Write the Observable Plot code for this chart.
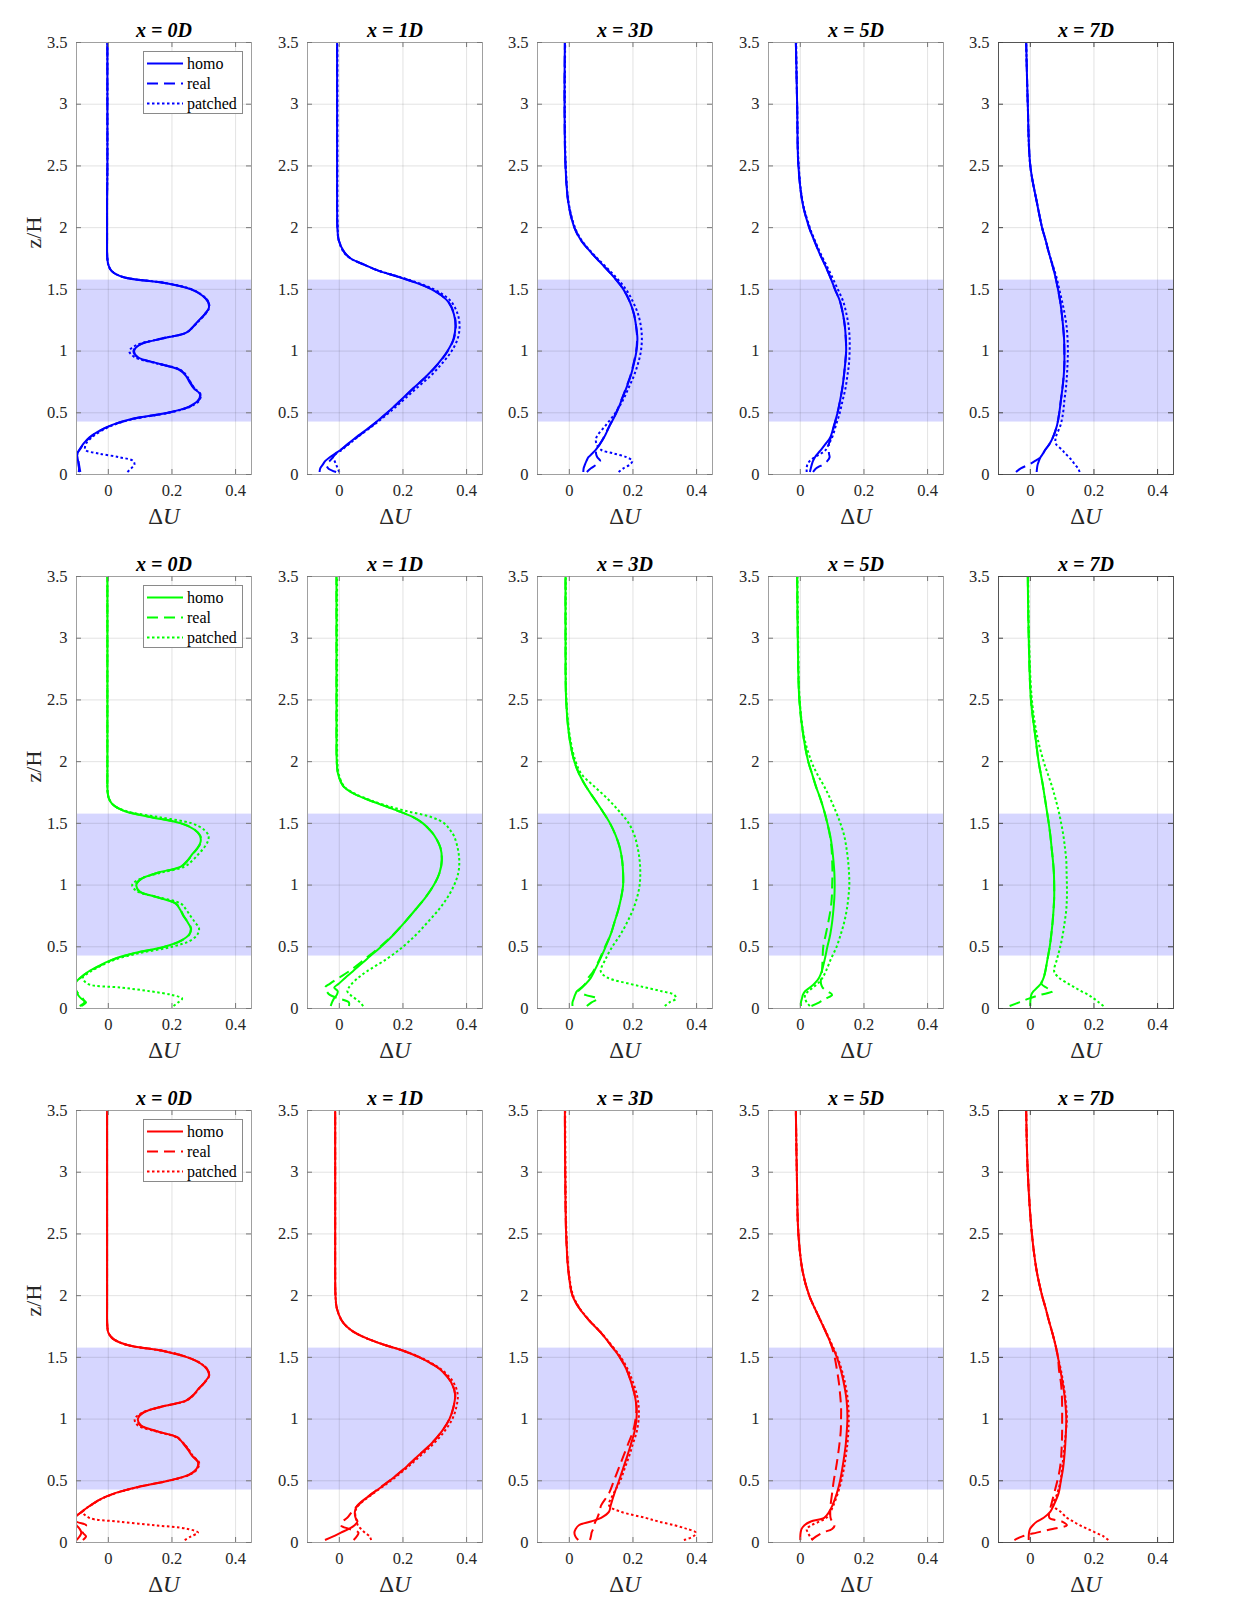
<!DOCTYPE html>
<html>
<head>
<meta charset="utf-8">
<script src="https://cdn.jsdelivr.net/npm/d3@7"></script>
<script src="https://cdn.jsdelivr.net/npm/@observablehq/plot@0.6"></script>
<style>
  html, body { margin: 0; padding: 0; background: #fff; }
  #fig { position: relative; width: 1250px; height: 1613px; background: #fff; overflow: hidden;
         font-family: "Liberation Serif", "Times New Roman", serif; }
  #fig svg { position: absolute; overflow: visible; }
</style>
</head>
<body>
<div id="fig"></div>
<script>
// ---------------- data ----------------
const locations = ["0D", "1D", "3D", "5D", "7D"];
const rowColors = ["#0000ff", "#00ff00", "#ff0000"];
const seriesNames = ["homo", "real", "patched"];
const xTicks = [0, 0.2, 0.4];
const yTicks = [0, 0.5, 1, 1.5, 2, 2.5, 3, 3.5];
const xDomain = [-0.1, 0.45];
const yDomain = [0, 3.5];
const bandRange = [0.425, 1.575];

// heights z/H at which profiles are read
const zNear = [0.02,0.05,0.08,0.11,0.14,0.17,0.2,0.25,0.3,0.35,0.4,0.45,0.5,0.55,0.6,0.65,0.7,0.75,0.8,0.85,0.9,0.95,1.0,1.05,1.1,1.15,1.2,1.25,1.3,1.35,1.4,1.45,1.5,1.55,1.6,1.65,1.7,1.75,1.8,1.9,2.0,2.2,2.5,3.0,3.5];
const zMid = [0.02,0.05,0.08,0.11,0.14,0.17,0.2,0.25,0.3,0.4,0.5,0.6,0.7,0.8,0.9,1.0,1.1,1.2,1.3,1.4,1.45,1.5,1.55,1.6,1.65,1.7,1.75,1.8,1.9,2.0,2.2,2.5,3.0,3.5];
const zFar = [0.02,0.05,0.08,0.11,0.14,0.17,0.2,0.25,0.3,0.4,0.5,0.6,0.7,0.8,0.9,1.0,1.1,1.2,1.3,1.4,1.5,1.6,1.7,1.8,1.9,2.0,2.2,2.5,3.0,3.5];

// ---- blue row ----
const blue0D_homo = [-0.093,-0.092,-0.094,-0.095,-0.097,-0.098,-0.091,-0.078,-0.06,-0.031,0.01,0.073,0.187,0.254,0.282,0.288,0.268,0.255,0.244,0.222,0.155,0.093,0.081,0.098,0.166,0.245,0.267,0.285,0.303,0.316,0.313,0.295,0.26,0.18,0.045,0.01,0.0,-0.003,-0.004,-0.004,-0.004,-0.004,-0.003,-0.003,-0.003];
const blue0D_real = [-0.088,-0.09,-0.092,-0.094,-0.096,-0.097,-0.09,-0.077,-0.058,-0.03,0.012,0.075,0.188,0.256,0.284,0.289,0.27,0.257,0.246,0.223,0.156,0.092,0.079,0.097,0.166,0.246,0.268,0.286,0.304,0.317,0.314,0.296,0.262,0.182,0.046,0.01,0.0,-0.003,-0.004,-0.004,-0.004,-0.004,-0.003,-0.003,-0.003];
const blue0D_patched = [0.06,0.072,0.082,0.078,0.035,-0.03,-0.072,-0.07,-0.052,-0.024,0.015,0.08,0.19,0.258,0.286,0.29,0.27,0.258,0.246,0.225,0.152,0.083,0.066,0.09,0.165,0.246,0.268,0.287,0.305,0.317,0.314,0.297,0.262,0.182,0.047,0.01,0.0,-0.003,-0.004,-0.004,-0.004,-0.004,-0.003,-0.003,-0.003];
const blue1D_homo = [-0.062,-0.06,-0.052,-0.044,-0.03,-0.013,0.005,0.028,0.052,0.104,0.15,0.192,0.233,0.275,0.311,0.34,0.359,0.365,0.36,0.342,0.321,0.29,0.244,0.187,0.124,0.078,0.036,0.016,-0.002,-0.006,-0.007,-0.007,-0.007,-0.007];
const blue1D_real = [-0.01,-0.035,-0.04,-0.03,-0.02,-0.01,0.004,0.03,0.054,0.105,0.151,0.193,0.234,0.276,0.312,0.341,0.36,0.366,0.361,0.343,0.322,0.291,0.245,0.188,0.125,0.078,0.036,0.016,-0.002,-0.006,-0.007,-0.007,-0.007,-0.007];
const blue1D_patched = [0.0,-0.005,-0.01,-0.015,-0.02,-0.01,0.008,0.032,0.056,0.108,0.156,0.2,0.243,0.287,0.323,0.353,0.372,0.378,0.372,0.352,0.33,0.298,0.25,0.19,0.125,0.078,0.036,0.014,-0.002,-0.005,-0.006,-0.006,-0.006,-0.006];
const blue3D_homo = [0.044,0.045,0.049,0.054,0.06,0.072,0.083,0.097,0.109,0.128,0.148,0.164,0.179,0.193,0.203,0.211,0.214,0.21,0.203,0.19,0.17,0.14,0.104,0.068,0.036,0.016,-0.003,-0.012,-0.015,-0.014];
const blue3D_real = [0.055,0.068,0.085,0.097,0.088,0.084,0.085,0.097,0.108,0.127,0.147,0.163,0.178,0.192,0.202,0.21,0.213,0.21,0.203,0.19,0.17,0.14,0.104,0.068,0.036,0.016,-0.003,-0.012,-0.015,-0.014];
const blue3D_patched = [0.155,0.17,0.19,0.198,0.18,0.14,0.1,0.085,0.085,0.115,0.145,0.168,0.186,0.203,0.216,0.225,0.228,0.225,0.216,0.2,0.178,0.146,0.108,0.07,0.038,0.018,-0.002,-0.011,-0.014,-0.013];
const blue5D_homo = [0.03,0.033,0.036,0.04,0.046,0.055,0.065,0.08,0.094,0.106,0.117,0.125,0.132,0.137,0.141,0.144,0.143,0.14,0.134,0.125,0.109,0.094,0.077,0.059,0.043,0.028,0.007,-0.006,-0.01,-0.014];
const blue5D_real = [0.04,0.05,0.07,0.085,0.092,0.09,0.09,0.09,0.096,0.107,0.117,0.125,0.132,0.137,0.141,0.144,0.143,0.14,0.134,0.125,0.109,0.094,0.077,0.059,0.043,0.028,0.007,-0.006,-0.01,-0.014];
const blue5D_patched = [0.02,0.02,0.022,0.03,0.045,0.065,0.08,0.09,0.1,0.112,0.124,0.133,0.142,0.148,0.153,0.155,0.155,0.152,0.145,0.135,0.118,0.1,0.081,0.062,0.045,0.03,0.008,-0.005,-0.01,-0.013];
const blue7D_homo = [0.02,0.021,0.023,0.027,0.032,0.04,0.047,0.061,0.071,0.084,0.091,0.096,0.101,0.105,0.107,0.107,0.106,0.103,0.099,0.094,0.087,0.079,0.069,0.058,0.048,0.037,0.021,0.0,-0.008,-0.013];
const blue7D_real = [-0.045,-0.03,-0.005,0.015,0.032,0.04,0.047,0.061,0.071,0.084,0.091,0.096,0.101,0.105,0.107,0.107,0.106,0.103,0.099,0.094,0.087,0.079,0.069,0.058,0.048,0.037,0.021,0.0,-0.008,-0.013];
const blue7D_patched = [0.155,0.15,0.14,0.132,0.122,0.11,0.1,0.08,0.08,0.095,0.103,0.107,0.112,0.115,0.117,0.118,0.117,0.114,0.108,0.1,0.091,0.082,0.07,0.058,0.048,0.037,0.021,0.0,-0.008,-0.013];

// ---- green row ----
const green0D_homo = [-0.085,-0.07,-0.085,-0.095,-0.1,-0.105,-0.105,-0.088,-0.062,-0.026,0.016,0.083,0.176,0.228,0.254,0.259,0.249,0.236,0.226,0.212,0.155,0.098,0.088,0.104,0.155,0.228,0.249,0.264,0.28,0.29,0.288,0.27,0.228,0.135,0.05,0.015,0.002,-0.002,-0.003,-0.003,-0.003,-0.003,-0.003,-0.003,-0.003];
const green0D_real = [-0.09,-0.075,-0.08,-0.09,-0.1,-0.105,-0.105,-0.087,-0.06,-0.024,0.018,0.085,0.178,0.23,0.255,0.26,0.25,0.237,0.227,0.213,0.154,0.096,0.086,0.103,0.156,0.229,0.25,0.265,0.281,0.291,0.289,0.271,0.23,0.137,0.05,0.015,0.002,-0.002,-0.003,-0.003,-0.003,-0.003,-0.003,-0.003,-0.003];
const green0D_patched = [0.205,0.22,0.232,0.2,0.13,0.04,-0.065,-0.08,-0.055,-0.02,0.025,0.1,0.2,0.258,0.28,0.285,0.272,0.258,0.245,0.228,0.16,0.09,0.075,0.1,0.165,0.24,0.265,0.283,0.3,0.312,0.315,0.3,0.262,0.16,0.055,0.015,0.002,-0.002,-0.003,-0.003,-0.003,-0.003,-0.003,-0.003,-0.003];
const green1D_homo = [-0.027,-0.023,-0.017,-0.008,-0.005,-0.016,-0.002,0.019,0.042,0.086,0.131,0.171,0.206,0.239,0.271,0.297,0.315,0.322,0.318,0.299,0.283,0.263,0.232,0.185,0.133,0.081,0.039,0.013,-0.004,-0.008,-0.009,-0.009,-0.009,-0.009];
const green1D_real = [0.03,0.03,0.0,-0.03,-0.04,-0.045,-0.03,0.0,0.03,0.08,0.128,0.17,0.206,0.239,0.271,0.297,0.315,0.322,0.318,0.299,0.283,0.263,0.232,0.185,0.133,0.081,0.039,0.013,-0.004,-0.008,-0.009,-0.009,-0.009,-0.009];
const green1D_patched = [0.075,0.065,0.05,0.035,0.025,0.03,0.039,0.06,0.086,0.148,0.2,0.242,0.278,0.312,0.34,0.361,0.374,0.377,0.372,0.36,0.347,0.33,0.29,0.21,0.14,0.085,0.042,0.015,-0.002,-0.006,-0.007,-0.007,-0.007,-0.007];
const green3D_homo = [0.01,0.01,0.014,0.018,0.024,0.038,0.052,0.068,0.078,0.097,0.114,0.13,0.142,0.154,0.163,0.169,0.169,0.166,0.159,0.146,0.128,0.104,0.078,0.052,0.031,0.016,0.0,-0.01,-0.012,-0.012];
const green3D_real = [0.055,0.07,0.09,0.05,0.03,0.04,0.05,0.06,0.075,0.095,0.112,0.13,0.142,0.154,0.163,0.169,0.169,0.166,0.159,0.146,0.128,0.104,0.078,0.052,0.031,0.016,0.0,-0.01,-0.012,-0.012];
const green3D_patched = [0.3,0.315,0.335,0.33,0.29,0.24,0.19,0.12,0.099,0.114,0.135,0.161,0.182,0.2,0.213,0.221,0.223,0.221,0.215,0.205,0.187,0.156,0.12,0.078,0.038,0.02,0.002,-0.009,-0.011,-0.011];
const green5D_homo = [0.002,0.002,0.005,0.008,0.015,0.03,0.044,0.059,0.067,0.077,0.085,0.094,0.1,0.104,0.107,0.108,0.107,0.104,0.1,0.094,0.085,0.075,0.063,0.049,0.037,0.025,0.01,-0.003,-0.008,-0.01];
const green5D_real = [0.035,0.06,0.08,0.1,0.085,0.07,0.065,0.065,0.068,0.07,0.072,0.08,0.088,0.095,0.099,0.1,0.101,0.1,0.098,0.093,0.085,0.075,0.063,0.049,0.037,0.025,0.01,-0.003,-0.008,-0.01];
const green5D_patched = [0.03,0.02,0.015,0.015,0.025,0.04,0.054,0.07,0.08,0.096,0.114,0.127,0.138,0.146,0.151,0.154,0.153,0.15,0.145,0.138,0.126,0.111,0.094,0.075,0.053,0.035,0.012,-0.002,-0.007,-0.009];
const green7D_homo = [0.0,0.0,0.001,0.003,0.01,0.022,0.033,0.042,0.047,0.054,0.061,0.066,0.07,0.073,0.075,0.075,0.074,0.071,0.067,0.063,0.058,0.052,0.046,0.04,0.033,0.026,0.016,0.002,-0.005,-0.008];
const green7D_real = [-0.065,-0.035,-0.005,0.03,0.07,0.05,0.035,0.042,0.047,0.054,0.061,0.066,0.07,0.073,0.075,0.075,0.074,0.071,0.067,0.063,0.058,0.052,0.046,0.04,0.033,0.026,0.016,0.002,-0.005,-0.008];
const green7D_patched = [0.23,0.215,0.2,0.183,0.16,0.14,0.12,0.09,0.075,0.084,0.094,0.102,0.108,0.113,0.115,0.115,0.114,0.113,0.109,0.104,0.097,0.089,0.079,0.068,0.055,0.042,0.022,0.005,-0.004,-0.007];

// ---- red row ----
const red0D_homo = [-0.1,-0.09,-0.085,-0.09,-0.1,-0.105,-0.105,-0.083,-0.057,-0.026,0.021,0.093,0.187,0.254,0.278,0.282,0.264,0.251,0.236,0.218,0.155,0.102,0.093,0.109,0.166,0.244,0.269,0.285,0.303,0.316,0.311,0.29,0.249,0.176,0.06,0.015,0.0,-0.003,-0.004,-0.004,-0.004,-0.004,-0.004,-0.004,-0.004];
const red0D_real = [-0.08,-0.07,-0.08,-0.075,-0.07,-0.1,-0.105,-0.082,-0.056,-0.025,0.022,0.094,0.188,0.255,0.279,0.283,0.265,0.252,0.237,0.219,0.154,0.1,0.091,0.108,0.167,0.245,0.27,0.286,0.304,0.317,0.312,0.291,0.25,0.177,0.06,0.015,0.0,-0.003,-0.004,-0.004,-0.004,-0.004,-0.004,-0.004,-0.004];
const red0D_patched = [0.24,0.26,0.282,0.249,0.145,0.03,-0.06,-0.08,-0.055,-0.024,0.024,0.096,0.19,0.256,0.281,0.285,0.266,0.253,0.238,0.215,0.15,0.092,0.083,0.105,0.168,0.246,0.27,0.286,0.304,0.317,0.312,0.291,0.25,0.177,0.06,0.015,0.0,-0.003,-0.004,-0.004,-0.004,-0.004,-0.004,-0.004,-0.004];
const red1D_homo = [-0.045,-0.019,0.005,0.03,0.048,0.057,0.051,0.049,0.057,0.106,0.158,0.205,0.247,0.289,0.322,0.346,0.359,0.364,0.351,0.318,0.289,0.252,0.205,0.143,0.09,0.049,0.023,0.007,-0.008,-0.012,-0.013,-0.013,-0.013,-0.013];
const red1D_real = [0.045,0.055,0.06,0.03,0.005,0.01,0.025,0.04,0.058,0.104,0.157,0.205,0.247,0.289,0.322,0.346,0.359,0.364,0.351,0.318,0.289,0.252,0.205,0.143,0.09,0.049,0.023,0.007,-0.008,-0.012,-0.013,-0.013,-0.013,-0.013];
const red1D_patched = [0.1,0.095,0.08,0.068,0.058,0.055,0.052,0.05,0.06,0.108,0.162,0.21,0.254,0.296,0.33,0.355,0.368,0.372,0.358,0.322,0.292,0.254,0.206,0.144,0.09,0.049,0.023,0.007,-0.008,-0.012,-0.013,-0.013,-0.013,-0.013];
const red3D_homo = [0.028,0.019,0.016,0.02,0.03,0.068,0.1,0.125,0.13,0.142,0.156,0.169,0.182,0.194,0.205,0.211,0.211,0.205,0.194,0.18,0.159,0.13,0.099,0.062,0.031,0.01,-0.003,-0.01,-0.013,-0.014];
const red3D_real = [0.065,0.068,0.07,0.075,0.078,0.082,0.088,0.095,0.1,0.125,0.14,0.155,0.17,0.185,0.2,0.208,0.211,0.205,0.194,0.18,0.159,0.13,0.099,0.062,0.031,0.01,-0.003,-0.01,-0.013,-0.014];
const red3D_patched = [0.36,0.39,0.398,0.37,0.33,0.28,0.239,0.161,0.125,0.14,0.16,0.174,0.188,0.2,0.212,0.218,0.218,0.212,0.2,0.184,0.162,0.132,0.1,0.063,0.032,0.012,-0.002,-0.009,-0.012,-0.013];
const red5D_homo = [0.0,0.0,0.001,0.004,0.013,0.033,0.075,0.091,0.101,0.115,0.125,0.132,0.138,0.143,0.146,0.148,0.147,0.143,0.136,0.127,0.115,0.098,0.081,0.063,0.045,0.028,0.007,-0.006,-0.011,-0.014];
const red5D_real = [0.035,0.05,0.07,0.1,0.108,0.1,0.095,0.094,0.095,0.1,0.105,0.112,0.118,0.123,0.127,0.128,0.128,0.125,0.121,0.115,0.108,0.097,0.081,0.063,0.045,0.028,0.007,-0.006,-0.011,-0.014];
const red5D_patched = [0.04,0.03,0.024,0.02,0.035,0.06,0.082,0.095,0.104,0.118,0.129,0.137,0.143,0.148,0.151,0.152,0.151,0.147,0.14,0.13,0.117,0.1,0.082,0.064,0.045,0.028,0.007,-0.006,-0.011,-0.014];
const red7D_homo = [-0.005,-0.005,-0.004,-0.001,0.008,0.021,0.042,0.063,0.073,0.089,0.096,0.103,0.107,0.11,0.112,0.113,0.111,0.107,0.101,0.094,0.087,0.079,0.069,0.058,0.048,0.037,0.02,0.005,-0.008,-0.013];
const red7D_real = [-0.05,-0.025,0.02,0.07,0.115,0.1,0.06,0.06,0.065,0.075,0.085,0.093,0.097,0.099,0.1,0.1,0.1,0.099,0.096,0.09,0.087,0.079,0.069,0.058,0.048,0.037,0.02,0.005,-0.008,-0.013];
const red7D_patched = [0.245,0.23,0.205,0.18,0.155,0.135,0.115,0.095,0.072,0.085,0.095,0.1,0.104,0.108,0.112,0.115,0.113,0.109,0.103,0.096,0.087,0.079,0.069,0.058,0.048,0.037,0.02,0.005,-0.008,-0.013];

// table assembled from the named arrays
const zGrids = [zNear, zMid, zFar, zFar, zFar];
const profiles = [
  [[blue0D_homo, blue0D_real, blue0D_patched], [blue1D_homo, blue1D_real, blue1D_patched], [blue3D_homo, blue3D_real, blue3D_patched], [blue5D_homo, blue5D_real, blue5D_patched], [blue7D_homo, blue7D_real, blue7D_patched]],
  [[green0D_homo, green0D_real, green0D_patched], [green1D_homo, green1D_real, green1D_patched], [green3D_homo, green3D_real, green3D_patched], [green5D_homo, green5D_real, green5D_patched], [green7D_homo, green7D_real, green7D_patched]],
  [[red0D_homo, red0D_real, red0D_patched], [red1D_homo, red1D_real, red1D_patched], [red3D_homo, red3D_real, red3D_patched], [red5D_homo, red5D_real, red5D_patched], [red7D_homo, red7D_real, red7D_patched]]
];

// ---------------- layout ----------------
const fig = document.getElementById("fig");
const boxW = 175, boxH = 432;
const mL = 64, mR = 16, mT = 42, mB = 64;
const colLeft = [76, 306.5, 537, 767.5, 998];
const rowTop = [42, 576, 1110];
const dashes = [null, "11,6", "2.5,2.5"];
const fontStack = "'Liberation Serif', 'Times New Roman', serif";

function makePanel(r, c) {
  const zs = zGrids[c];
  const color = rowColors[r];
  const frameColor = c === 4 ? "#555555" : "#a0a0a0";
  const tickColor = c === 4 ? "#444444" : "#777777";
  const marks = [
    Plot.rect([{lo: bandRange[0], hi: bandRange[1]}], {y1: "lo", y2: "hi", fill: "#0000ff", fillOpacity: 0.16}),
    Plot.gridX(xTicks, {stroke: "#262626", strokeOpacity: 0.13, strokeWidth: 1}),
    Plot.gridY(yTicks, {stroke: "#262626", strokeOpacity: 0.13, strokeWidth: 1})
  ];
  seriesNames.forEach((name, k) => {
    const pts = profiles[r][c][k].map((u, i) => ({u, z: zs[i]}));
    marks.push(Plot.line(pts, {
      x: "u", y: "z", stroke: color, strokeWidth: 2,
      strokeDasharray: dashes[k], strokeLinecap: "butt",
      curve: "catmull-rom", clip: true
    }));
  });
  marks.push(
    Plot.frame({stroke: frameColor, strokeWidth: 1}),
    Plot.tickY(yTicks, {stroke: tickColor, insetRight: boxW - 5}),
    Plot.tickY(yTicks, {stroke: tickColor, insetLeft: boxW - 5}),
    Plot.tickX(xTicks, {stroke: tickColor, insetTop: boxH - 5}),
    Plot.tickX(xTicks, {stroke: tickColor, insetBottom: boxH - 5}),
    Plot.axisX(xTicks, {anchor: "bottom", tickSize: 0, tickPadding: 10, label: null,
      tickFormat: d => String(d), fontSize: 16.5, fill: "#262626"}),
    Plot.axisY(yTicks, {anchor: "left", tickSize: 0, tickPadding: 9, label: null,
      tickFormat: d => String(d), fontSize: 16.5, fill: "#262626"}),
    Plot.text([`x = ${locations[c]}`], {frameAnchor: "top", dy: -6, lineAnchor: "bottom",
      fontSize: 20, fontWeight: "bold", fontStyle: "italic", fill: "#000"}),
    Plot.text(["ΔU"], {frameAnchor: "bottom", dy: 42, lineAnchor: "middle",
      fontSize: 23, fill: "#262626"})
  );
  if (c === 0) {
    marks.push(Plot.text(["z/H"], {frameAnchor: "left", dx: -43, dy: -10, rotate: -90,
      lineAnchor: "middle", fontSize: 22, fill: "#262626"}));
  }
  const svg = Plot.plot({
    width: boxW + mL + mR, height: boxH + mT + mB,
    marginLeft: mL, marginRight: mR, marginTop: mT, marginBottom: mB,
    x: {domain: xDomain, range: [mL, mL + boxW]},
    y: {domain: yDomain, range: [mT + boxH, mT]},
    style: {fontFamily: fontStack, fontSize: "16.5px", color: "#262626", background: "transparent", overflow: "visible"},
    marks
  });
  svg.style.left = (colLeft[c] - mL) + "px";
  svg.style.top = (rowTop[r] - mT) + "px";
  // serif face for every piece of text (tick labels included)
  d3.select(svg).selectAll("g").filter(function () {
    const a = this.getAttribute("aria-label") || "";
    return a.indexOf("tick label") >= 0;
  }).style("font-family", fontStack).style("font-size", "16.5px").attr("font-variant", null);
  d3.select(svg).selectAll("text").style("font-family", fontStack);
  // ΔU: upright Delta, italic U
  d3.select(svg).selectAll("text").filter(function () { return this.textContent === "ΔU"; })
    .each(function () {
      const t = d3.select(this);
      t.text("");
      t.append("tspan").text("Δ");
      t.append("tspan").attr("font-style", "italic").text("U");
    });
  fig.appendChild(svg);
}

function makeLegend(r) {
  const w = 100, h = 63;
  const svg = d3.create("svg").attr("width", w).attr("height", h)
    .style("left", "142.5px").style("top", (rowTop[r] + 8.5) + "px");
  svg.append("rect").attr("x", 0.5).attr("y", 0.5).attr("width", w - 1).attr("height", h - 1)
    .attr("fill", "#fff").attr("stroke", "#8a8a8a").attr("stroke-width", 1);
  seriesNames.forEach((name, k) => {
    const y = 12.5 + 20 * k;
    svg.append("line").attr("x1", 4).attr("x2", 40).attr("y1", y).attr("y2", y)
      .attr("stroke", rowColors[r]).attr("stroke-width", 2)
      .attr("stroke-dasharray", dashes[k]);
    svg.append("text").attr("x", 44).attr("y", y).attr("dy", "0.33em")
      .style("font-family", fontStack).attr("font-size", 16).attr("fill", "#000").text(name);
  });
  fig.appendChild(svg.node());
}

for (let r = 0; r < 3; r++) {
  for (let c = 0; c < 5; c++) makePanel(r, c);
  makeLegend(r);
}
</script>
</body>
</html>
